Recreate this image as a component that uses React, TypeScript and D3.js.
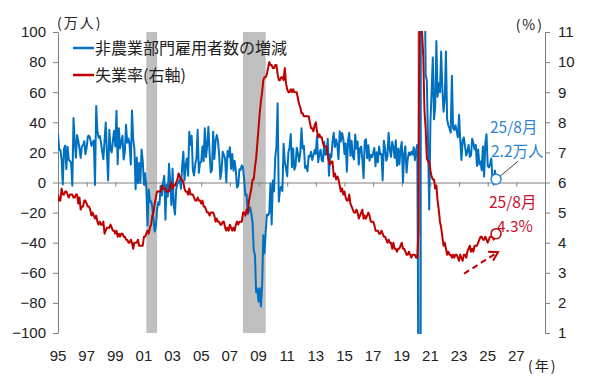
import React, { useRef, useEffect } from 'react';
import * as d3 from 'd3';

// monthly data, Jan 1995 - Aug 2025
const startYear = 1995;

// 非農業部門雇用者数の増減 (万人, 前月差)
const payrolls: number[] = [
  32.3, 21.9, 21.6, 15.6, -1.3, 22.4, 24.5, 8.9, 23.8, 15.2, 14.3, 12.9, // 1995
  -2.1, 42.9, 27.2, 16.4, 31.5, 27.5, 22.7, 16.3, 24.1, 24.6, 27.4, 18.8, // 1996
  23.2, 30.7, 31.1, 29.0, 24.4, 26.5, 27.9, -1.7, 50.9, 34.1, 29.8, 30.9, // 1997
  26.7, 20.7, 15.5, 27.9, 39.8, 19.4, 1.4, 35.0, 22.1, 20.0, 28.1, 34.3, // 1998
  24.0, 47.7, 12.1, 36.0, 22.8, 26.8, 31.1, 15.3, 20.2, 38.4, 26.5, 29.3, // 1999
  24.9, 11.9, 47.8, 28.9, 22.3, -4.5, 16.6, -0.5, 13.0, -0.3, 22.0, 14.4, // 2000
  -1.3, 6.1, -3.1, -28.6, -4.6, -12.8, -12.5, -16.0, -24.4, -32.5, -29.2, -17.8, // 2001
  -13.2, -14.7, -2.3, -8.7, -0.5, 4.5, -24.8, -1.3, -9.3, 12.5, 0.8, -14.9, // 2002
  9.1, -15.5, -21.3, -4.8, -0.6, -0.1, 2.1, -4.1, 10.3, 20.4, 1.4, 11.5, // 2003
  16.0, 4.5, 33.7, 25.0, 31.0, 8.1, 4.7, 12.2, 16.0, 35.1, 6.4, 13.3, // 2004
  13.6, 24.0, 14.2, 36.0, 17.0, 24.6, 37.0, 19.6, 6.7, 8.3, 33.7, 15.6, // 2005
  27.6, 31.5, 28.0, 18.3, 2.3, 7.7, 20.5, 18.4, 15.8, 0.2, 20.9, 17.1, // 2006
  23.5, 9.0, 18.9, 7.9, 14.3, 7.5, -3.4, -2.0, 8.8, 8.4, 11.4, 9.8, // 2007
  1.7, -8.4, -7.8, -21.0, -18.5, -16.5, -20.9, -26.6, -45.2, -48.1, -72.9, -70.5, // 2008
  -79.1, -70.3, -82.3, -68.6, -35.1, -47.0, -32.9, -21.2, -21.9, -20.0, -0.7, -27.9, // 2009
  1.4, -5.9, 16.5, 24.0, 52.7, -12.7, -4.6, -2.8, -5.7, 25.8, 14.0, 9.4, // 2010
  4.2, 20.0, 23.5, 32.2, 10.2, 22.6, 8.5, 10.8, 23.1, 19.4, 13.9, 19.7, // 2011
  36.0, 22.6, 24.3, 9.6, 11.0, 7.4, 17.6, 17.2, 20.4, 15.0, 18.1, 21.6, // 2012
  19.0, 31.1, 13.5, 19.2, 21.8, 14.6, 14.0, 26.9, 18.5, 18.9, 29.1, 4.5, // 2013
  18.7, 16.8, 27.2, 33.0, 23.6, 28.6, 24.9, 15.5, 34.0, 27.3, 32.9, 29.2, // 2014
  19.0, 26.0, 7.2, 27.8, 33.1, 17.8, 27.7, 17.3, 15.3, 31.9, 22.5, 27.2, // 2015
  11.9, 22.6, 23.9, 15.3, 2.9, 27.7, 28.7, 16.1, 24.7, 14.5, 18.5, 16.8, // 2016
  19.6, 23.0, 10.8, 20.1, 13.5, 23.9, 18.7, 18.9, 1.4, 27.8, 22.8, 14.5, // 2017
  17.5, 33.0, 21.8, 17.0, 27.0, 23.5, 16.4, 28.0, 11.1, 22.4, 11.9, 22.7, // 2018
  26.9, 0.1, 18.9, 24.1, 6.6, 15.6, 20.0, 18.1, 20.4, 18.5, 23.4, 14.8, // 2019
  21.4, 25.1, -137.3, -2047.7, 283.3, 484.6, 172.6, 158.3, 71.6, 68.0, 26.3, -18.0, // 2020
  40.0, 60.0, 83.0, 42.0, 50.0, 94.0, 57.0, 66.0, 60.0, 87.0, 62.0, 47.0, // 2021
  55.0, 87.0, 42.0, 38.0, 36.0, 33.0, 71.0, 36.0, 35.0, 38.0, 34.0, 30.0, // 2022
  45.0, 28.0, 15.0, 28.0, 30.0, 24.0, 18.0, 21.0, 25.0, 17.0, 18.0, 29.0, // 2023
  26.0, 22.0, 25.0, 11.0, 22.0, 12.0, 14.0, 8.0, 24.0, 4.0, 26.0, 32.0, // 2024
  11.0, 10.0, 12.0, 16.0, 1.9, -1.3, 7.9, 2.2, // 2025
];

// 失業率 (%)
const unemployment: number[] = [
  5.6, 5.4, 5.4, 5.8, 5.6, 5.6, 5.7, 5.7, 5.6, 5.5, 5.6, 5.6, // 1995
  5.6, 5.5, 5.5, 5.6, 5.6, 5.3, 5.5, 5.1, 5.2, 5.2, 5.4, 5.4, // 1996
  5.3, 5.2, 5.2, 5.1, 4.9, 5.0, 4.9, 4.8, 4.9, 4.7, 4.6, 4.7, // 1997
  4.6, 4.6, 4.7, 4.3, 4.4, 4.5, 4.5, 4.5, 4.6, 4.5, 4.4, 4.4, // 1998
  4.3, 4.4, 4.2, 4.3, 4.2, 4.3, 4.3, 4.2, 4.2, 4.1, 4.1, 4.0, // 1999
  4.0, 4.1, 4.0, 3.8, 4.0, 4.0, 4.0, 4.1, 3.9, 3.9, 3.9, 3.9, // 2000
  4.2, 4.2, 4.3, 4.4, 4.3, 4.5, 4.6, 4.9, 5.0, 5.3, 5.5, 5.7, // 2001
  5.7, 5.7, 5.7, 5.9, 5.8, 5.8, 5.8, 5.7, 5.7, 5.7, 5.9, 6.0, // 2002
  5.8, 5.9, 5.9, 6.0, 6.1, 6.3, 6.2, 6.1, 6.1, 6.0, 5.8, 5.7, // 2003
  5.7, 5.6, 5.8, 5.6, 5.6, 5.6, 5.5, 5.4, 5.4, 5.5, 5.4, 5.4, // 2004
  5.3, 5.4, 5.2, 5.2, 5.1, 5.0, 5.0, 4.9, 5.0, 5.0, 5.0, 4.9, // 2005
  4.7, 4.8, 4.7, 4.7, 4.6, 4.6, 4.7, 4.7, 4.5, 4.4, 4.5, 4.4, // 2006
  4.6, 4.5, 4.4, 4.5, 4.4, 4.6, 4.7, 4.6, 4.7, 4.7, 4.7, 5.0, // 2007
  5.0, 4.9, 5.1, 5.0, 5.4, 5.6, 5.8, 6.1, 6.1, 6.5, 6.8, 7.3, // 2008
  7.8, 8.3, 8.7, 9.0, 9.4, 9.5, 9.5, 9.6, 9.8, 10.0, 9.9, 9.9, // 2009
  9.8, 9.8, 9.9, 9.9, 9.6, 9.4, 9.4, 9.5, 9.5, 9.4, 9.8, 9.3, // 2010
  9.1, 9.0, 9.0, 9.1, 9.0, 9.1, 9.0, 9.0, 9.0, 8.8, 8.6, 8.5, // 2011
  8.3, 8.3, 8.2, 8.2, 8.2, 8.2, 8.2, 8.0, 7.8, 7.8, 7.7, 7.9, // 2012
  8.0, 7.7, 7.5, 7.6, 7.5, 7.5, 7.3, 7.2, 7.2, 7.2, 6.9, 6.7, // 2013
  6.6, 6.7, 6.7, 6.2, 6.3, 6.1, 6.2, 6.1, 5.9, 5.7, 5.8, 5.6, // 2014
  5.7, 5.5, 5.4, 5.4, 5.6, 5.3, 5.2, 5.1, 5.0, 5.0, 5.1, 5.0, // 2015
  4.8, 4.9, 5.0, 5.1, 4.8, 4.9, 4.8, 4.9, 5.0, 4.9, 4.7, 4.7, // 2016
  4.7, 4.6, 4.4, 4.4, 4.4, 4.3, 4.3, 4.4, 4.3, 4.2, 4.2, 4.1, // 2017
  4.0, 4.1, 4.0, 4.0, 3.8, 4.0, 3.8, 3.8, 3.7, 3.8, 3.8, 3.9, // 2018
  4.0, 3.8, 3.8, 3.7, 3.6, 3.6, 3.7, 3.6, 3.5, 3.6, 3.6, 3.6, // 2019
  3.5, 3.5, 4.4, 14.8, 13.2, 11.0, 10.2, 8.4, 7.8, 6.8, 6.7, 6.7, // 2020
  6.4, 6.2, 6.1, 6.1, 5.8, 5.9, 5.4, 5.1, 4.7, 4.5, 4.2, 3.9, // 2021
  4.0, 3.8, 3.6, 3.7, 3.6, 3.6, 3.5, 3.6, 3.5, 3.6, 3.6, 3.5, // 2022
  3.4, 3.6, 3.5, 3.4, 3.6, 3.6, 3.5, 3.7, 3.8, 3.9, 3.7, 3.8, // 2023
  3.7, 3.9, 3.9, 3.9, 4.0, 4.1, 4.2, 4.2, 4.1, 4.1, 4.2, 4.1, // 2024
  4.0, 4.1, 4.2, 4.2, 4.2, 4.1, 4.2, 4.3, // 2025
];

// 景気後退期 [開始年, 月, 終了年, 月]
const recessions: number[][] = [
  [2001, 3, 2001, 11],
  [2007, 12, 2009, 6],
  [2020, 2, 2020, 4],
];

const xTickYears = [1995, 1997, 1999, 2001, 2003, 2005, 2007, 2009, 2011, 2013, 2015, 2017, 2019, 2021, 2023, 2025, 2027];
const leftTicks = [-100, -80, -60, -40, -20, 0, 20, 40, 60, 80, 100];
const rightTicks = [1, 2, 3, 4, 5, 6, 7, 8, 9, 10, 11];

const BLUE = '#0070C0';
const RED = '#C00000';
const NUM_FONT = '"Liberation Sans", Arial, sans-serif';
const JP_FONT = '"Noto Sans CJK JP", "Liberation Sans", sans-serif';

function App() {
  const ref = useRef<SVGSVGElement>(null);

  useEffect(() => {
    const svg = d3.select(ref.current);
    svg.selectAll('*').remove();

    const left = 58, right = 545, top = 32, bottom = 333;
    const x = d3.scaleLinear().domain([1995, 2029]).range([left, right]);
    const yL = d3.scaleLinear().domain([-100, 100]).range([bottom, top]);
    const yR = d3.scaleLinear().domain([1, 11]).range([bottom, top]);
    const t = (i: number) => startYear + i / 12;

    svg.append('defs').append('clipPath').attr('id', 'plot-clip')
      .append('rect')
      .attr('x', left).attr('y', top - 1)
      .attr('width', right - left).attr('height', bottom - top + 2);

    // recession bands
    svg.append('g').selectAll('rect').data(recessions).join('rect')
      .attr('x', (d) => x(d[0] + (d[1] - 1) / 12))
      .attr('width', (d) => x(d[2] + d[3] / 12) - x(d[0] + (d[1] - 1) / 12))
      .attr('y', top).attr('height', bottom - top)
      .attr('fill', '#BFBFBF');

    // zero line with year ticks
    const xAxis = svg.append('g')
      .attr('transform', `translate(0,${yL(0)})`)
      .call(d3.axisBottom(x).tickValues(xTickYears).tickSize(4).tickSizeOuter(0).tickFormat(() => ''));
    xAxis.selectAll('path, line').attr('stroke', '#7F7F7F');

    svg.append('g').selectAll('text').data(xTickYears).join('text')
      .attr('x', (d) => x(d)).attr('y', 361)
      .attr('text-anchor', 'middle')
      .attr('font-family', NUM_FONT).attr('font-size', 15).attr('fill', '#222')
      .text((d) => String(d).slice(2));

    const lAxis = svg.append('g')
      .attr('transform', `translate(${left},0)`)
      .call(d3.axisLeft(yL).tickValues(leftTicks).tickSize(5).tickSizeOuter(0).tickPadding(7));
    const rAxis = svg.append('g')
      .attr('transform', `translate(${right},0)`)
      .call(d3.axisRight(yR).tickValues(rightTicks).tickSize(5).tickSizeOuter(0).tickPadding(8));
    [lAxis, rAxis].forEach((g) => {
      g.selectAll('path, line').attr('stroke', '#7F7F7F');
      g.selectAll('text')
        .attr('font-family', NUM_FONT).attr('font-size', 15).attr('fill', '#222');
    });
    lAxis.selectAll('text').text((d: any) => (d < 0 ? '\u2212' + Math.abs(d) : String(d)));

    const plot = svg.append('g').attr('clip-path', 'url(#plot-clip)');

    const blueLine = d3.line<number>().x((d, i) => x(t(i))).y((d) => yL(d));
    plot.append('path').datum(payrolls)
      .attr('d', blueLine)
      .attr('fill', 'none').attr('stroke', BLUE)
      .attr('stroke-width', 2).attr('stroke-linejoin', 'round');

    const redLine = d3.line<number>().x((d, i) => x(t(i))).y((d) => yR(d));
    plot.append('path').datum(unemployment)
      .attr('d', redLine)
      .attr('fill', 'none').attr('stroke', RED)
      .attr('stroke-width', 2).attr('stroke-linejoin', 'round');

    // unit labels
    const unit = (tx: string, px: number, py: number, anchor: string) =>
      svg.append('text').attr('x', px).attr('y', py)
        .attr('text-anchor', anchor)
        .attr('font-family', JP_FONT).attr('font-size', 14)
        .attr('letter-spacing', 2).attr('fill', '#222')
        .text(tx);
    unit('(万人)', 57, 28, 'start');
    unit('(%)', 544, 30, 'end');
    unit('(年)', 528, 371, 'start');

    // legend
    const legend = [
      { label: '非農業部門雇用者数の増減', color: BLUE, y: 48 },
      { label: '失業率(右軸)', color: RED, y: 75 },
    ];
    const lg = svg.append('g').selectAll('g').data(legend).join('g');
    lg.append('line')
      .attr('x1', 73).attr('x2', 94)
      .attr('y1', (d) => d.y).attr('y2', (d) => d.y)
      .attr('stroke', (d) => d.color).attr('stroke-width', 2.5);
    lg.append('text')
      .attr('x', 95).attr('y', (d) => d.y).attr('dy', '0.36em')
      .attr('font-family', JP_FONT).attr('font-size', 16).attr('fill', '#222')
      .text((d) => d.label);

    // latest values
    const last = payrolls.length - 1;
    const bx = x(t(last)), by = yL(payrolls[last]);
    const rx = x(t(last)), ry = yR(unemployment[last]);

    svg.append('line')
      .attr('x1', bx + 4).attr('y1', by - 3)
      .attr('x2', bx + 22).attr('y2', by - 18)
      .attr('stroke', '#404040').attr('stroke-width', 1);
    svg.append('circle').attr('cx', bx).attr('cy', by).attr('r', 5)
      .attr('fill', '#fff').attr('stroke', '#2E86D1').attr('stroke-width', 1.5);
    svg.append('circle').attr('cx', rx).attr('cy', ry).attr('r', 5)
      .attr('fill', '#fff').attr('stroke', RED).attr('stroke-width', 1.5);

    const note = (tx: string, px: number, py: number, color: string) =>
      svg.append('text').attr('x', px).attr('y', py)
        .attr('font-family', JP_FONT).attr('font-size', 15.5).attr('fill', color)
        .text(tx);
    note('25/8月', 490, 133, '#2E86D1');
    note('2.2万人', 491, 157, '#2E86D1');
    note('25/8月', 489, 208, '#C8102E');
    note('4.3%', 497, 232, '#C8102E');

    // dashed arrow
    svg.append('line')
      .attr('x1', rx - 32).attr('y1', ry + 40)
      .attr('x2', rx + 1).attr('y2', ry + 19)
      .attr('stroke', RED).attr('stroke-width', 2).attr('stroke-dasharray', '6,4');
    svg.append('path')
      .attr('d', `M${rx - 8},${ry + 18} L${rx + 2},${ry + 18.5} L${rx - 3},${ry + 27}`)
      .attr('fill', 'none').attr('stroke', RED).attr('stroke-width', 2);
  }, []);

  return (
    <svg ref={ref} width={600} height={386} style={{ position: 'absolute', left: 0, top: 0, background: '#fff' }}></svg>
  );
}

export default App;
